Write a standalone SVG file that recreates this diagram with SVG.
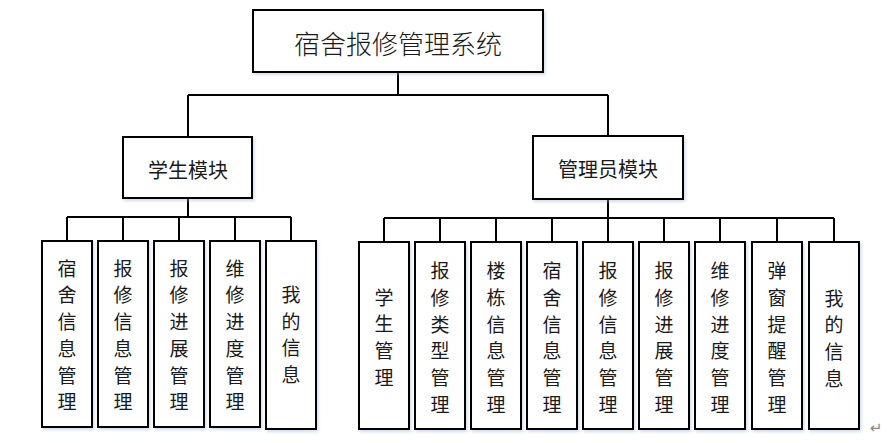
<svg xmlns="http://www.w3.org/2000/svg" width="894" height="443" viewBox="0 0 894 443">
<defs>
<filter id="sh" x="-20%" y="-20%" width="140%" height="140%">
<feDropShadow dx="1.5" dy="2" stdDeviation="1.5" flood-color="#9fb3d6" flood-opacity="0.45"/>
</filter>
</defs>
<style>
.box{fill:#fff;stroke:#000;stroke-width:2;filter:url(#sh)}
.ln{fill:none;stroke:#000;stroke-width:2}
.t{font-family:"Noto Sans CJK SC","Noto Sans",sans-serif;fill:#1a1a1a;text-anchor:middle;dominant-baseline:central}
.v{font-size:19px}
</style>
<rect width="894" height="443" fill="#fff"/>
<g id="connectors">
<path class="ln" d="M398 72V95M188 95H608M188 95V137M608 95V136"/>
<path class="ln" d="M188 198V217M67 217H291M67 217V241M123 217V241M179 217V241M235 217V241M291 217V241"/>
<path class="ln" d="M608 199V218M384 218H834M384 218V242M440 218V242M496 218V242M552 218V242M608 218V242M664 218V242M720 218V242M777 218V242M834 218V242"/>
</g>
<g id="root"><rect class="box" x="253" y="10" width="290" height="62"/><text class="t" x="398" y="42" font-size="26" font-weight="300">宿舍报修管理系统</text></g>
<g id="student"><rect class="box" x="123" y="137" width="129" height="61"/><text class="t" x="188" y="169" font-size="20">学生模块</text></g>
<g id="admin"><rect class="box" x="533" y="136" width="150" height="63"/><text class="t" x="608" y="168" font-size="20">管理员模块</text></g>
<g id="s1"><rect class="box" x="42" y="241" width="50" height="186"/><text class="t v"><tspan x="67" y="266.7">宿</tspan><tspan x="67" dy="26.7">舍</tspan><tspan x="67" dy="26.7">信</tspan><tspan x="67" dy="26.7">息</tspan><tspan x="67" dy="26.7">管</tspan><tspan x="67" dy="26.7">理</tspan></text></g>
<g id="s2"><rect class="box" x="98" y="241" width="50" height="186"/><text class="t v"><tspan x="123" y="266.7">报</tspan><tspan x="123" dy="26.7">修</tspan><tspan x="123" dy="26.7">信</tspan><tspan x="123" dy="26.7">息</tspan><tspan x="123" dy="26.7">管</tspan><tspan x="123" dy="26.7">理</tspan></text></g>
<g id="s3"><rect class="box" x="154" y="241" width="50" height="186"/><text class="t v"><tspan x="179" y="266.7">报</tspan><tspan x="179" dy="26.7">修</tspan><tspan x="179" dy="26.7">进</tspan><tspan x="179" dy="26.7">展</tspan><tspan x="179" dy="26.7">管</tspan><tspan x="179" dy="26.7">理</tspan></text></g>
<g id="s4"><rect class="box" x="210" y="241" width="50" height="186"/><text class="t v"><tspan x="235" y="266.7">维</tspan><tspan x="235" dy="26.7">修</tspan><tspan x="235" dy="26.7">进</tspan><tspan x="235" dy="26.7">度</tspan><tspan x="235" dy="26.7">管</tspan><tspan x="235" dy="26.7">理</tspan></text></g>
<g id="s5"><rect class="box" x="266" y="241" width="50" height="188"/><text class="t v"><tspan x="291" y="293">我</tspan><tspan x="291" dy="26.7">的</tspan><tspan x="291" dy="26.7">信</tspan><tspan x="291" dy="26.7">息</tspan></text></g>
<g id="a1"><rect class="box" x="359" y="242" width="50" height="187"/><text class="t v"><tspan x="384" y="295.7">学</tspan><tspan x="384" dy="26.7">生</tspan><tspan x="384" dy="26.7">管</tspan><tspan x="384" dy="26.7">理</tspan></text></g>
<g id="a2"><rect class="box" x="415" y="242" width="50" height="187"/><text class="t v"><tspan x="440" y="269.3">报</tspan><tspan x="440" dy="26.7">修</tspan><tspan x="440" dy="26.7">类</tspan><tspan x="440" dy="26.7">型</tspan><tspan x="440" dy="26.7">管</tspan><tspan x="440" dy="26.7">理</tspan></text></g>
<g id="a3"><rect class="box" x="471" y="242" width="50" height="187"/><text class="t v"><tspan x="496" y="269.3">楼</tspan><tspan x="496" dy="26.7">栋</tspan><tspan x="496" dy="26.7">信</tspan><tspan x="496" dy="26.7">息</tspan><tspan x="496" dy="26.7">管</tspan><tspan x="496" dy="26.7">理</tspan></text></g>
<g id="a4"><rect class="box" x="527" y="242" width="50" height="187"/><text class="t v"><tspan x="552" y="269.3">宿</tspan><tspan x="552" dy="26.7">舍</tspan><tspan x="552" dy="26.7">信</tspan><tspan x="552" dy="26.7">息</tspan><tspan x="552" dy="26.7">管</tspan><tspan x="552" dy="26.7">理</tspan></text></g>
<g id="a5"><rect class="box" x="583" y="242" width="50" height="187"/><text class="t v"><tspan x="608" y="269.3">报</tspan><tspan x="608" dy="26.7">修</tspan><tspan x="608" dy="26.7">信</tspan><tspan x="608" dy="26.7">息</tspan><tspan x="608" dy="26.7">管</tspan><tspan x="608" dy="26.7">理</tspan></text></g>
<g id="a6"><rect class="box" x="639" y="242" width="50" height="187"/><text class="t v"><tspan x="664" y="269.3">报</tspan><tspan x="664" dy="26.7">修</tspan><tspan x="664" dy="26.7">进</tspan><tspan x="664" dy="26.7">展</tspan><tspan x="664" dy="26.7">管</tspan><tspan x="664" dy="26.7">理</tspan></text></g>
<g id="a7"><rect class="box" x="695" y="242" width="50" height="187"/><text class="t v"><tspan x="720" y="269.3">维</tspan><tspan x="720" dy="26.7">修</tspan><tspan x="720" dy="26.7">进</tspan><tspan x="720" dy="26.7">度</tspan><tspan x="720" dy="26.7">管</tspan><tspan x="720" dy="26.7">理</tspan></text></g>
<g id="a8"><rect class="box" x="752" y="242" width="50" height="187"/><text class="t v"><tspan x="777" y="269.3">弹</tspan><tspan x="777" dy="26.7">窗</tspan><tspan x="777" dy="26.7">提</tspan><tspan x="777" dy="26.7">醒</tspan><tspan x="777" dy="26.7">管</tspan><tspan x="777" dy="26.7">理</tspan></text></g>
<g id="a9"><rect class="box" x="809" y="242" width="50" height="187"/><text class="t v"><tspan x="834" y="296.7">我</tspan><tspan x="834" dy="26.7">的</tspan><tspan x="834" dy="26.7">信</tspan><tspan x="834" dy="26.7">息</tspan></text></g>
<text x="876" y="433" font-family="DejaVu Sans,sans-serif" font-size="15" fill="#888" text-anchor="middle">↵</text>
</svg>
